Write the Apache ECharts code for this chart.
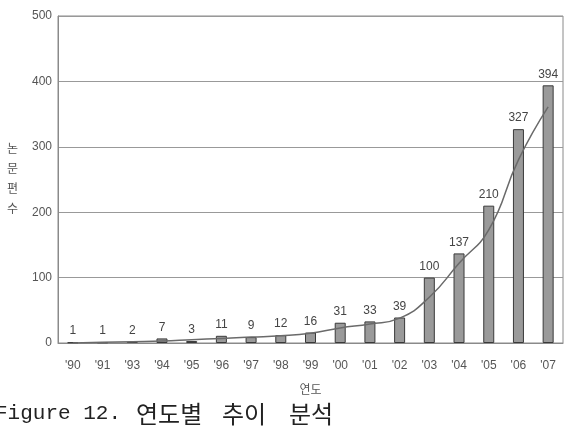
<!DOCTYPE html>
<html>
<head>
<meta charset="utf-8">
<script src="https://cdn.jsdelivr.net/npm/echarts@6/dist/echarts.min.js"></script>
<style>
  html, body { margin: 0; padding: 0; background: #fff; }
  #chart { width: 569px; height: 429px; }
</style>
</head>
<body>
<div id="chart"></div>
<script>
// years and paper counts
var years = ["'90", "'91", "'93", "'94", "'95", "'96", "'97", "'98", "'99",
             "'00", "'01", "'02", "'03", "'04", "'05", "'06", "'07"];
var counts = [1, 1, 2, 7, 3, 11, 9, 12, 16, 31, 33, 39, 100, 137, 210, 327, 394];
// trend curve, estimated from the drawn line
var trend = [0, 1, 2, 3, 5, 7, 9, 11, 15, 23, 29, 38, 70, 122, 173, 280, 361];
var yTicks = [0, 100, 200, 300, 400, 500];

var chart = echarts.init(document.getElementById('chart'));
var labelFont = 'Liberation Sans, Arial, sans-serif';
var hangul = '24px "Noto Sans CJK KR", sans-serif';

chart.setOption({
    animation: false,
    backgroundColor: '#fff',
    grid: {
        left: 58, right: 6, top: 16, bottom: 86,
        containLabel: false,
        outerBoundsMode: 'none',
        show: true,
        borderColor: '#8a8a8a',
        borderWidth: 1
    },
    xAxis: {
        type: 'category',
        data: years,
        name: '연도',
        nameLocation: 'middle',
        nameGap: 40,
        nameTextStyle: { color: '#555', fontSize: 12, fontFamily: 'Noto Sans CJK KR' },
        axisLine: { lineStyle: { color: '#8a8a8a' } },
        axisTick: { inside: true, length: 3, lineStyle: { color: '#777' } },
        axisLabel: { color: '#555', fontSize: 12, fontFamily: labelFont, margin: 17 }
    },
    yAxis: {
        type: 'value',
        min: yTicks[0],
        max: yTicks[yTicks.length - 1],
        interval: 100,
        axisLine: { show: true, lineStyle: { color: '#8a8a8a' } },
        axisTick: { show: false },
        axisLabel: { color: '#555', fontSize: 12, fontFamily: labelFont, margin: 6 },
        splitLine: { lineStyle: { color: '#999', width: 1 } }
    },
    series: [
        {
            type: 'bar',
            data: counts,
            barWidth: 11,
            itemStyle: { color: '#9a9a9a', borderColor: '#3a3a3a', borderWidth: 1 },
            label: {
                show: true,
                position: 'top',
                distance: 5,
                color: '#444',
                fontSize: 12,
                fontFamily: labelFont
            },
            z: 2
        },
        {
            type: 'line',
            data: trend,
            smooth: true,
            showSymbol: false,
            lineStyle: { color: '#6a6a6a', width: 1.5 },
            z: 3
        }
    ],
    graphic: [
        // y axis name, stacked upright
        {
            type: 'text',
            left: 7,
            top: 138,
            style: {
                text: '논\n문\n편\n수',
                font: '12px "Noto Sans CJK KR", sans-serif',
                lineHeight: 20,
                fill: '#555'
            }
        },
        // caption below the chart
        {
            type: 'text', left: -5, top: 403,
            style: { text: 'Figure 12.', font: '21px "Liberation Mono", monospace', fill: '#222' }
        },
        {
            type: 'text', left: 136, top: 402,
            style: { text: '연도별', font: hangul, fill: '#222' }
        },
        {
            type: 'text', left: 222, top: 402,
            style: { text: '추이', font: hangul, fill: '#222' }
        },
        {
            type: 'text', left: 289, top: 402,
            style: { text: '분석', font: hangul, fill: '#222' }
        }
    ]
});
</script>
</body>
</html>
